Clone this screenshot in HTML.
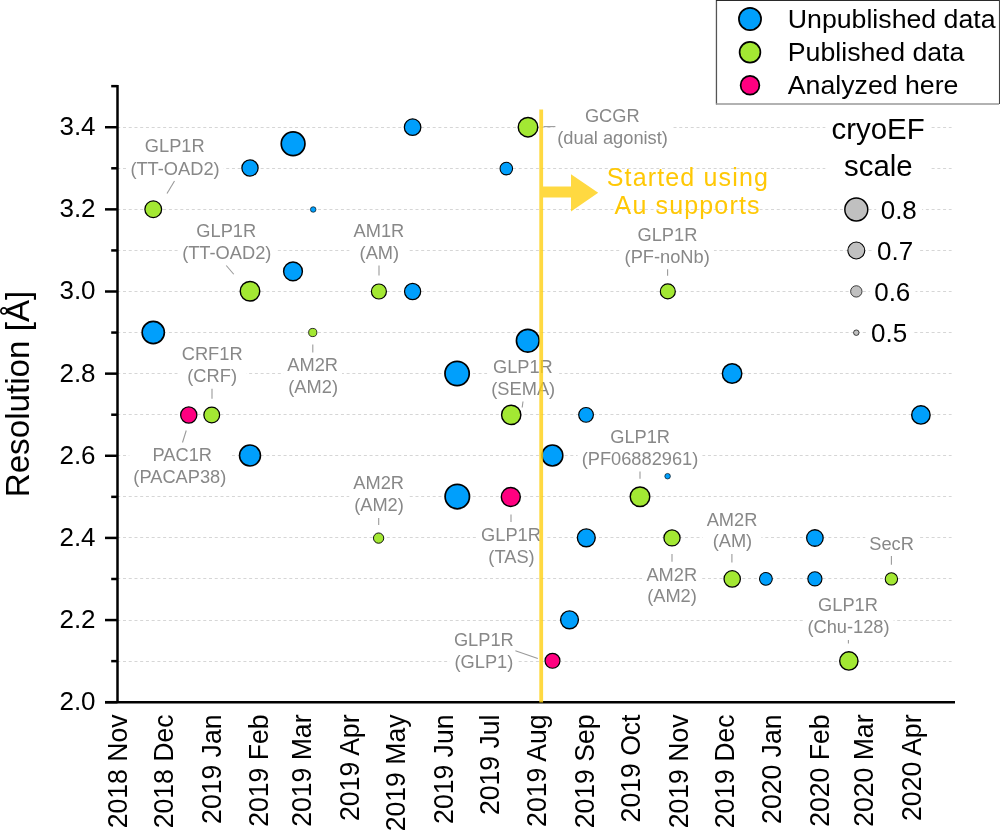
<!DOCTYPE html><html><head><meta charset="utf-8"><style>html,body{margin:0;padding:0;background:#fff;width:1000px;height:830px;overflow:hidden}svg{display:block;will-change:transform;font-family:"Liberation Sans",sans-serif}</style></head><body>
<svg width="1000" height="830" viewBox="0 0 1000 830">
<rect width="1000" height="830" fill="#fff"/>
<line x1="117.25" y1="661.50" x2="951.6" y2="661.50" stroke="#d6d6d6" stroke-width="1" stroke-dasharray="3,2.735"/>
<line x1="117.25" y1="620.50" x2="951.6" y2="620.50" stroke="#d6d6d6" stroke-width="1" stroke-dasharray="3,2.735"/>
<line x1="117.25" y1="578.50" x2="951.6" y2="578.50" stroke="#d6d6d6" stroke-width="1" stroke-dasharray="3,2.735"/>
<line x1="117.25" y1="537.50" x2="951.6" y2="537.50" stroke="#d6d6d6" stroke-width="1" stroke-dasharray="3,2.735"/>
<line x1="117.25" y1="496.50" x2="951.6" y2="496.50" stroke="#d6d6d6" stroke-width="1" stroke-dasharray="3,2.735"/>
<line x1="117.25" y1="455.50" x2="951.6" y2="455.50" stroke="#d6d6d6" stroke-width="1" stroke-dasharray="3,2.735"/>
<line x1="117.25" y1="414.50" x2="951.6" y2="414.50" stroke="#d6d6d6" stroke-width="1" stroke-dasharray="3,2.735"/>
<line x1="117.25" y1="373.50" x2="951.6" y2="373.50" stroke="#d6d6d6" stroke-width="1" stroke-dasharray="3,2.735"/>
<line x1="117.25" y1="332.50" x2="951.6" y2="332.50" stroke="#d6d6d6" stroke-width="1" stroke-dasharray="3,2.735"/>
<line x1="117.25" y1="291.50" x2="951.6" y2="291.50" stroke="#d6d6d6" stroke-width="1" stroke-dasharray="3,2.735"/>
<line x1="117.25" y1="250.50" x2="951.6" y2="250.50" stroke="#d6d6d6" stroke-width="1" stroke-dasharray="3,2.735"/>
<line x1="117.25" y1="209.50" x2="951.6" y2="209.50" stroke="#d6d6d6" stroke-width="1" stroke-dasharray="3,2.735"/>
<line x1="117.25" y1="168.50" x2="951.6" y2="168.50" stroke="#d6d6d6" stroke-width="1" stroke-dasharray="3,2.735"/>
<line x1="117.25" y1="127.50" x2="951.6" y2="127.50" stroke="#d6d6d6" stroke-width="1" stroke-dasharray="3,2.735"/>
<rect x="126.4" y="135.5" width="97.2" height="44.5" fill="#fff"/>
<rect x="178.2" y="220.3" width="97.2" height="44.2" fill="#fff"/>
<rect x="177.8" y="343.5" width="68.8" height="44.0" fill="#fff"/>
<rect x="283.3" y="354.5" width="58.7" height="43.5" fill="#fff"/>
<rect x="129.3" y="444.3" width="101.0" height="44.2" fill="#fff"/>
<rect x="349.5" y="220.3" width="58.7" height="44.2" fill="#fff"/>
<rect x="553.3" y="105.5" width="118.6" height="44.0" fill="#fff"/>
<rect x="487.3" y="356.3" width="71.9" height="44.2" fill="#fff"/>
<rect x="349.3" y="472.5" width="58.7" height="44.3" fill="#fff"/>
<rect x="477.1" y="524.0" width="67.8" height="44.0" fill="#fff"/>
<rect x="449.9" y="629.7" width="67.8" height="43.3" fill="#fff"/>
<rect x="620.6" y="224.5" width="93.2" height="43.5" fill="#fff"/>
<rect x="577.6" y="426.3" width="124.7" height="44.2" fill="#fff"/>
<rect x="702.6" y="509.2" width="58.7" height="43.6" fill="#fff"/>
<rect x="642.4" y="564.1" width="58.7" height="43.7" fill="#fff"/>
<rect x="865.3" y="533.0" width="52.6" height="22.0" fill="#fff"/>
<rect x="803.4" y="594.5" width="90.2" height="43.6" fill="#fff"/>
<line x1="174.5" y1="181" x2="167" y2="193.5" stroke="#9a9a9a" stroke-width="1.1"/>
<line x1="226.25" y1="265.5" x2="233.75" y2="274.25" stroke="#9a9a9a" stroke-width="1.1"/>
<line x1="212" y1="388.75" x2="212" y2="398.75" stroke="#9a9a9a" stroke-width="1.1"/>
<line x1="312.8" y1="344.5" x2="312.8" y2="352.5" stroke="#9a9a9a" stroke-width="1.1"/>
<line x1="186.25" y1="430.5" x2="182.5" y2="442.5" stroke="#9a9a9a" stroke-width="1.1"/>
<line x1="379" y1="265.5" x2="379" y2="275.5" stroke="#9a9a9a" stroke-width="1.1"/>
<line x1="543.5" y1="126.6" x2="555.4" y2="126.6" stroke="#9a9a9a" stroke-width="1.1"/>
<line x1="523" y1="401.5" x2="522.2" y2="407.5" stroke="#9a9a9a" stroke-width="1.1"/>
<line x1="378.7" y1="518" x2="378.7" y2="525" stroke="#9a9a9a" stroke-width="1.1"/>
<line x1="511" y1="514.5" x2="511" y2="522" stroke="#9a9a9a" stroke-width="1.1"/>
<line x1="515.4" y1="650.8" x2="537.8" y2="658.6" stroke="#9a9a9a" stroke-width="1.1"/>
<line x1="667.6" y1="269.2" x2="667.6" y2="275.8" stroke="#9a9a9a" stroke-width="1.1"/>
<line x1="640" y1="471.6" x2="640" y2="478.8" stroke="#9a9a9a" stroke-width="1.1"/>
<line x1="731.9" y1="554" x2="731.9" y2="562.4" stroke="#9a9a9a" stroke-width="1.1"/>
<line x1="672" y1="554" x2="672" y2="561.7" stroke="#9a9a9a" stroke-width="1.1"/>
<line x1="891.4" y1="556" x2="891.4" y2="564.7" stroke="#9a9a9a" stroke-width="1.1"/>
<line x1="848.4" y1="639.9" x2="848.4" y2="643.5" stroke="#9a9a9a" stroke-width="1.1"/>
<circle cx="153.25" cy="332.5" r="11.10" fill="#009ffc" stroke="#000" stroke-width="1.61"/>
<circle cx="250" cy="168" r="8.12" fill="#009ffc" stroke="#000" stroke-width="1.26"/>
<circle cx="293.1" cy="143.7" r="11.85" fill="#009ffc" stroke="#000" stroke-width="1.70"/>
<circle cx="313.2" cy="209.5" r="2.78" fill="#009ffc" stroke="#000" stroke-width="0.64"/>
<circle cx="293" cy="271.4" r="9.39" fill="#009ffc" stroke="#000" stroke-width="1.41"/>
<circle cx="250" cy="455.5" r="10.48" fill="#009ffc" stroke="#000" stroke-width="1.54"/>
<circle cx="412.6" cy="127.2" r="8.26" fill="#009ffc" stroke="#000" stroke-width="1.28"/>
<circle cx="412.6" cy="291.5" r="8.07" fill="#009ffc" stroke="#000" stroke-width="1.26"/>
<circle cx="506.3" cy="168.6" r="6.28" fill="#009ffc" stroke="#000" stroke-width="1.05"/>
<circle cx="527.8" cy="340.7" r="11.38" fill="#009ffc" stroke="#000" stroke-width="1.64"/>
<circle cx="457.1" cy="373.5" r="12.13" fill="#009ffc" stroke="#000" stroke-width="1.73"/>
<circle cx="457.3" cy="496.6" r="12.18" fill="#009ffc" stroke="#000" stroke-width="1.74"/>
<circle cx="586.05" cy="414.85" r="7.36" fill="#009ffc" stroke="#000" stroke-width="1.17"/>
<circle cx="552.4" cy="455.5" r="10.43" fill="#009ffc" stroke="#000" stroke-width="1.53"/>
<circle cx="667.6" cy="476.2" r="2.78" fill="#009ffc" stroke="#000" stroke-width="0.64"/>
<circle cx="586.3" cy="537.85" r="8.92" fill="#009ffc" stroke="#000" stroke-width="1.36"/>
<circle cx="569.5" cy="619.85" r="8.92" fill="#009ffc" stroke="#000" stroke-width="1.36"/>
<circle cx="732.1" cy="373.5" r="9.73" fill="#009ffc" stroke="#000" stroke-width="1.45"/>
<circle cx="765.9" cy="578.85" r="6.42" fill="#009ffc" stroke="#000" stroke-width="1.06"/>
<circle cx="814.9" cy="538" r="8.26" fill="#009ffc" stroke="#000" stroke-width="1.28"/>
<circle cx="814.9" cy="578.85" r="7.08" fill="#009ffc" stroke="#000" stroke-width="1.14"/>
<circle cx="920.9" cy="414.9" r="9.21" fill="#009ffc" stroke="#000" stroke-width="1.39"/>
<circle cx="153.25" cy="209.25" r="8.36" fill="#a3e833" stroke="#000" stroke-width="1.29"/>
<circle cx="250" cy="291.25" r="9.77" fill="#a3e833" stroke="#000" stroke-width="1.46"/>
<circle cx="312.75" cy="332.5" r="4.10" fill="#a3e833" stroke="#000" stroke-width="0.79"/>
<circle cx="211.75" cy="415" r="7.88" fill="#a3e833" stroke="#000" stroke-width="1.24"/>
<circle cx="378.9" cy="291.5" r="7.50" fill="#a3e833" stroke="#000" stroke-width="1.19"/>
<circle cx="528" cy="127.2" r="9.77" fill="#a3e833" stroke="#000" stroke-width="1.46"/>
<circle cx="511.2" cy="414.9" r="9.63" fill="#a3e833" stroke="#000" stroke-width="1.44"/>
<circle cx="378.6" cy="538.1" r="5.14" fill="#a3e833" stroke="#000" stroke-width="0.92"/>
<circle cx="667.8" cy="291.4" r="7.50" fill="#a3e833" stroke="#000" stroke-width="1.19"/>
<circle cx="640" cy="496.75" r="9.77" fill="#a3e833" stroke="#000" stroke-width="1.46"/>
<circle cx="672" cy="537.9" r="8.07" fill="#a3e833" stroke="#000" stroke-width="1.26"/>
<circle cx="732.2" cy="578.9" r="8.17" fill="#a3e833" stroke="#000" stroke-width="1.27"/>
<circle cx="891.4" cy="578.9" r="6.18" fill="#a3e833" stroke="#000" stroke-width="1.04"/>
<circle cx="848.85" cy="660.95" r="9.16" fill="#a3e833" stroke="#000" stroke-width="1.38"/>
<circle cx="188.75" cy="415" r="8.12" fill="#ff0080" stroke="#000" stroke-width="1.26"/>
<circle cx="510.8" cy="497" r="9.49" fill="#ff0080" stroke="#000" stroke-width="1.42"/>
<circle cx="552.5" cy="660.8" r="7.46" fill="#ff0080" stroke="#000" stroke-width="1.19"/>
<g font-size="18.25" fill="#888888">
<text x="144.85" y="152">GLP1R</text>
<text x="130.40" y="174.5">(TT-OAD2)</text>
<text x="196.35" y="236.8">GLP1R</text>
<text x="182.15" y="259">(TT-OAD2)</text>
<text x="181.75" y="360">CRF1R</text>
<text x="187.30" y="382">(CRF)</text>
<text x="287.35" y="371">AM2R</text>
<text x="288.30" y="392.5">(AM2)</text>
<text x="152.50" y="460.8">PAC1R</text>
<text x="133.35" y="483">(PACAP38)</text>
<text x="353.50" y="236.8">AM1R</text>
<text x="359.60" y="259">(AM)</text>
<text x="584.90" y="122">GCGR</text>
<text x="557.30" y="144">(dual agonist)</text>
<text x="492.95" y="372.8">GLP1R</text>
<text x="491.30" y="395">(SEMA)</text>
<text x="353.35" y="489">AM2R</text>
<text x="354.15" y="511.3">(AM2)</text>
<text x="481.05" y="540.5">GLP1R</text>
<text x="488.35" y="562.5">(TAS)</text>
<text x="453.90" y="646.2">GLP1R</text>
<text x="454.50" y="667.5">(GLP1)</text>
<text x="637.50" y="241">GLP1R</text>
<text x="624.60" y="262.5">(PF-noNb)</text>
<text x="610.20" y="442.8">GLP1R</text>
<text x="581.65" y="465">(PF06882961)</text>
<text x="706.65" y="525.7">AM2R</text>
<text x="712.65" y="547.3">(AM)</text>
<text x="646.45" y="580.6">AM2R</text>
<text x="647.15" y="602.3">(AM2)</text>
<text x="869.30" y="549.5">SecR</text>
<text x="818.10" y="611">GLP1R</text>
<text x="807.40" y="632.6">(Chu-128)</text>
</g>
<g stroke="#000" stroke-width="2.5" fill="none">
<line x1="117.5" y1="85.1" x2="117.5" y2="703"/>
<line x1="105" y1="702.2" x2="955" y2="702.2"/>
<line x1="105" y1="702.20" x2="117.5" y2="702.20"/>
<line x1="111.2" y1="661.13" x2="117.5" y2="661.13"/>
<line x1="105" y1="620.06" x2="117.5" y2="620.06"/>
<line x1="111.2" y1="578.99" x2="117.5" y2="578.99"/>
<line x1="105" y1="537.92" x2="117.5" y2="537.92"/>
<line x1="111.2" y1="496.85" x2="117.5" y2="496.85"/>
<line x1="105" y1="455.78" x2="117.5" y2="455.78"/>
<line x1="111.2" y1="414.71" x2="117.5" y2="414.71"/>
<line x1="105" y1="373.64" x2="117.5" y2="373.64"/>
<line x1="111.2" y1="332.57" x2="117.5" y2="332.57"/>
<line x1="105" y1="291.50" x2="117.5" y2="291.50"/>
<line x1="111.2" y1="250.43" x2="117.5" y2="250.43"/>
<line x1="105" y1="209.36" x2="117.5" y2="209.36"/>
<line x1="111.2" y1="168.29" x2="117.5" y2="168.29"/>
<line x1="105" y1="127.22" x2="117.5" y2="127.22"/>
<line x1="111.2" y1="86.15" x2="117.5" y2="86.15"/>
</g>
<g opacity="0.8"><line x1="541.2" y1="109.6" x2="541.2" y2="702.4" stroke="#ffd012" stroke-width="3.8"/>
<polygon points="543,186.4 571,186.4 571,174.2 598.2,192.8 571,211.4 571,197.6 543,197.6" fill="#ffd012"/></g>
<g font-size="25" fill="#ffc805" text-anchor="middle" letter-spacing="1.15">
<text x="687.9" y="186.4">Started using</text><text x="687.6" y="213.6">Au supports</text></g>
<g font-size="26" fill="#000" text-anchor="end">
<text x="95.6" y="710.10">2.0</text>
<text x="95.6" y="627.96">2.2</text>
<text x="95.6" y="545.82">2.4</text>
<text x="95.6" y="463.68">2.6</text>
<text x="95.6" y="381.54">2.8</text>
<text x="95.6" y="299.40">3.0</text>
<text x="95.6" y="217.26">3.2</text>
<text x="95.6" y="135.12">3.4</text>
</g>
<text transform="translate(29,394) rotate(-90)" font-size="33.2" text-anchor="middle" fill="#000">Resolution [Å]</text>
<g font-size="26.6" fill="#000" text-anchor="end">
<text transform="translate(127.19,714.5) rotate(-90) scale(1,1.07)">2018 Nov</text>
<text transform="translate(173.25,714.5) rotate(-90) scale(1,1.07)">2018 Dec</text>
<text transform="translate(220.84,714.5) rotate(-90) scale(1,1.07)">2019 Jan</text>
<text transform="translate(268.43,714.5) rotate(-90) scale(1,1.07)">2019 Feb</text>
<text transform="translate(311.41,714.5) rotate(-90) scale(1,1.07)">2019 Mar</text>
<text transform="translate(359.00,714.5) rotate(-90) scale(1,1.07)">2019 Apr</text>
<text transform="translate(405.06,714.5) rotate(-90) scale(1,1.07)">2019 May</text>
<text transform="translate(452.65,714.5) rotate(-90) scale(1,1.07)">2019 Jun</text>
<text transform="translate(498.71,714.5) rotate(-90) scale(1,1.07)">2019 Jul</text>
<text transform="translate(546.30,714.5) rotate(-90) scale(1,1.07)">2019 Aug</text>
<text transform="translate(593.89,714.5) rotate(-90) scale(1,1.07)">2019 Sep</text>
<text transform="translate(639.95,714.5) rotate(-90) scale(1,1.07)">2019 Oct</text>
<text transform="translate(687.54,714.5) rotate(-90) scale(1,1.07)">2019 Nov</text>
<text transform="translate(733.59,714.5) rotate(-90) scale(1,1.07)">2019 Dec</text>
<text transform="translate(781.18,714.5) rotate(-90) scale(1,1.07)">2020 Jan</text>
<text transform="translate(828.78,714.5) rotate(-90) scale(1,1.07)">2020 Feb</text>
<text transform="translate(873.30,714.5) rotate(-90) scale(1,1.07)">2020 Mar</text>
<text transform="translate(920.89,714.5) rotate(-90) scale(1,1.07)">2020 Apr</text>
</g>
<rect x="716" y="0" width="284" height="104.5" fill="#fff"/>
<line x1="716.45" y1="0" x2="716.45" y2="104.5" stroke="#555" stroke-width="1.3"/>
<line x1="716" y1="0.5" x2="1000" y2="0.5" stroke="#2a2a2a" stroke-width="1.1"/>
<line x1="999.5" y1="0" x2="999.5" y2="104" stroke="#444" stroke-width="1.1"/>
<line x1="716" y1="103.9" x2="999" y2="103.9" stroke="#999" stroke-width="1.5"/>
<circle cx="750" cy="19" r="11.1" fill="#009ffc" stroke="#000" stroke-width="1.7"/>
<circle cx="750" cy="52.2" r="10.4" fill="#a3e833" stroke="#000" stroke-width="1.7"/>
<circle cx="750" cy="85.25" r="9.4" fill="#ff0080" stroke="#000" stroke-width="1.7"/>
<g font-size="26.7" fill="#000">
<text x="787.8" y="28.4">Unpublished data</text><text x="787.8" y="61.3">Published data</text><text x="787.8" y="94.2">Analyzed here</text></g>
<rect x="825.5" y="113" width="105.5" height="68" fill="#fff"/>
<g font-size="29.4" fill="#000" text-anchor="middle"><text x="878.1" y="138.9">cryoEF</text><text x="878.3" y="175.9">scale</text></g>
<rect x="876.2" y="197.5" width="45.9" height="24" fill="#fff"/>
<circle cx="856.3" cy="209.5" r="11.47" fill="#c0c0c0" stroke="#000" stroke-width="1.46"/>
<text x="880.70" y="218.6" font-size="26" fill="#000">0.8</text>
<rect x="872.5" y="238.5" width="46.3" height="24" fill="#fff"/>
<circle cx="856.3" cy="250.5" r="8.46" fill="#c0c0c0" stroke="#000" stroke-width="1.08"/>
<text x="877.00" y="259.6" font-size="26" fill="#000">0.7</text>
<rect x="869.7" y="279.4" width="45.8" height="24" fill="#fff"/>
<circle cx="856.3" cy="291.4" r="5.69" fill="#c0c0c0" stroke="#000" stroke-width="0.73"/>
<text x="874.20" y="300.5" font-size="26" fill="#000">0.6</text>
<rect x="866.5" y="320.7" width="45.7" height="24" fill="#fff"/>
<circle cx="856.3" cy="332.7" r="2.75" fill="#c0c0c0" stroke="#000" stroke-width="0.70"/>
<text x="871.00" y="341.8" font-size="26" fill="#000">0.5</text>
</svg></body></html>
